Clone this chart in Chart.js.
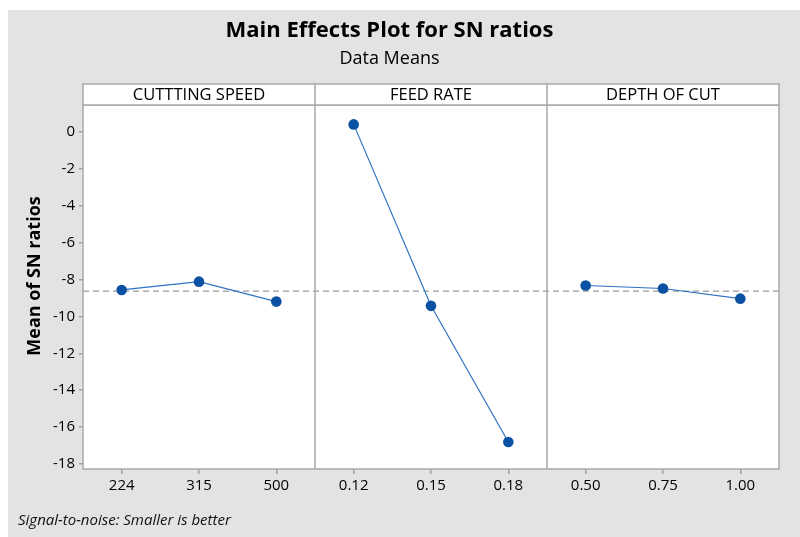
<!DOCTYPE html>
<html><head><meta charset="utf-8">
<script src="https://cdn.jsdelivr.net/npm/chart.js@4"></script>
<style>html,body{margin:0;padding:0;background:#fff}#wrap{width:800px;height:537px}</style>
</head><body><div id="wrap"><canvas id="c" width="800" height="537"></canvas></div>
<script>
const factors = ["CUTTTING SPEED", "FEED RATE", "DEPTH OF CUT"];
const speedLevels = ["224", "315", "500"];
const feedLevels = ["0.12", "0.15", "0.18"];
const depthLevels = ["0.50", "0.75", "1.00"];
const speedSN = [-8.57, -8.12, -9.20];
const feedSN = [0.40, -9.43, -16.81];
const depthSN = [-8.33, -8.49, -9.04];
const yTicks = [0, -2, -4, -6, -8, -10, -12, -14, -16, -18];
const grandMean = -8.63;

const FONT = "'Open Sans', 'Noto Sans', sans-serif";
const levels = [speedLevels, feedLevels, depthLevels];
const values = [speedSN, feedSN, depthSN];
const labels = levels.flat();

const datasets = values.map((vals, p) => {
  const data = labels.map(() => null);
  vals.forEach((v, i) => { data[p * 3 + i] = v; });
  return {
    label: factors[p], data,
    borderColor: '#2f72c2', borderWidth: 1.2,
    pointBackgroundColor: '#0b51a3', pointBorderColor: '#0b51a3',
    pointRadius: 5.3, pointBorderWidth: 0, tension: 0, spanGaps: false, fill: false
  };
});

const bgPlugin = {
  id: 'bg',
  beforeDraw(chart) {
    const c = chart.ctx;
    c.save();
    c.fillStyle = '#ffffff';
    c.fillRect(0, 0, chart.width, chart.height);
    c.fillStyle = '#e3e3e3';
    c.fillRect(8, 10, chart.width - 8, chart.height - 10);
    c.restore();
  }
};

const decoPlugin = {
  id: 'deco',
  beforeDatasetsDraw(chart) {
    const c = chart.ctx, a = chart.chartArea;
    const x = chart.scales.x, y = chart.scales.y;
    c.save();
    c.fillStyle = '#ffffff';
    c.fillRect(a.left, a.top, a.right - a.left, a.bottom - a.top);
    c.strokeStyle = '#a9a9a9'; c.lineWidth = 1.5;
    [2.5, 5.5].forEach(v => {
      const px = x.getPixelForValue(v);
      c.beginPath(); c.moveTo(px, a.top - 21); c.lineTo(px, a.bottom); c.stroke();
    });
    const gy = y.getPixelForValue(grandMean);
    c.strokeStyle = '#9a9a9a'; c.lineWidth = 1.3; c.setLineDash([6, 4]);
    c.beginPath(); c.moveTo(a.left, gy); c.lineTo(a.right, gy); c.stroke();
    c.restore();
  },
  afterDraw(chart) {
    const c = chart.ctx, a = chart.chartArea;
    const x = chart.scales.x;
    c.save();
    c.strokeStyle = '#a9a9a9'; c.lineWidth = 1.5;
    c.strokeRect(a.left, a.top, a.right - a.left, a.bottom - a.top);
    const hTop = a.top - 21;
    c.fillStyle = '#ffffff';
    c.fillRect(a.left, hTop, a.right - a.left, 21);
    c.strokeRect(a.left, hTop, a.right - a.left, 21);
    [2.5, 5.5].forEach(v => {
      const px = x.getPixelForValue(v);
      c.beginPath(); c.moveTo(px, hTop); c.lineTo(px, a.top); c.stroke();
    });
    c.fillStyle = '#000'; c.font = "16.5px " + FONT;
    c.textAlign = 'center'; c.textBaseline = 'middle';
    factors.forEach((f, p) => {
      const px = x.getPixelForValue(p * 3 + 1);
      c.fillText(f, px, hTop + 11);
    });
    c.save();
    c.translate(35, 276); c.rotate(-Math.PI / 2);
    c.font = "bold 18px " + FONT; c.fillStyle = '#000';
    c.fillText('Mean of SN ratios', 0, 0);
    c.restore();
    c.font = "italic 15px " + FONT; c.fillStyle = '#111';
    c.textAlign = 'left';
    c.fillText('Signal-to-noise: Smaller is better', 18, 521);
    c.restore();
  }
};

new Chart(document.getElementById('c'), {
  type: 'line',
  data: { labels, datasets },
  options: {
    responsive: false, animation: false, devicePixelRatio: 1,
    layout: { padding: { top: 10, left: 0, right: 21, bottom: 0 } },
    plugins: {
      legend: { display: false }, tooltip: { enabled: false },
      title: { display: true, text: 'Main Effects Plot for SN ratios', color: '#000',
        font: { family: FONT, size: 22, weight: 'bold', lineHeight: 1.2 }, padding: { top: 7.8, bottom: 0 } },
      subtitle: { display: true, text: 'Data Means', color: '#000',
        font: { family: FONT, size: 18, lineHeight: 1.2 }, padding: { top: 4, bottom: 35.2 } }
    },
    scales: {
      x: {
        type: 'category', offset: true,
        grid: { offset: false, drawOnChartArea: false, drawTicks: true, tickLength: 5, color: '#a0a0a0', lineWidth: 1.5 },
        border: { display: false },
        ticks: { color: '#000', font: { family: FONT, size: 15 }, padding: 3, maxRotation: 0, autoSkip: false },
        afterFit(s) { s.height = 68; }
      },
      y: {
        min: -18.27, max: 1.45,
        afterBuildTicks(s) { s.ticks = yTicks.map(v => ({ value: v })); },
        grid: { drawOnChartArea: false, drawTicks: true, tickLength: 4, color: '#a0a0a0', lineWidth: 1.5 },
        border: { display: false },
        ticks: { color: '#000', font: { family: FONT, size: 15 }, padding: 4 },
        afterFit(s) { s.width = 83; }
      }
    }
  },
  plugins: [bgPlugin, decoPlugin]
});
</script></body></html>
